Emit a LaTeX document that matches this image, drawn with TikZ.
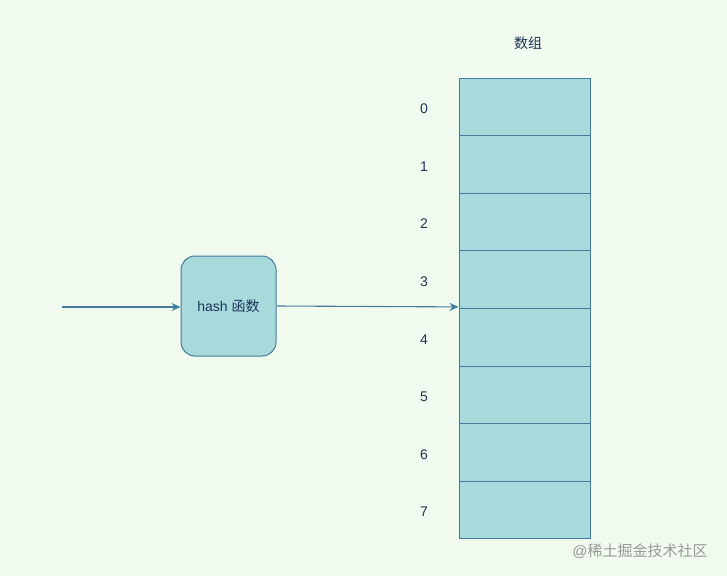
\documentclass[tikz,border=0pt]{standalone}
\usepackage{fontspec}
\setmainfont{Liberation Sans}
\newfontfamily\cjk{Noto Sans CJK SC}
\usetikzlibrary{arrows.meta,positioning}
\definecolor{bgcol}{HTML}{F1FAEE}
\definecolor{cellfill}{HTML}{A8DADC}
\definecolor{cellline}{HTML}{457B9D}
\definecolor{textcol}{HTML}{1D3557}

\begin{document}
\begin{tikzpicture}[
    x=1pt, y=-1pt,
    cell/.style={rectangle, draw=cellline, fill=cellfill, line width=1pt, minimum width=131pt, minimum height=57.6pt, inner sep=0pt},
    hashbox/.style={rectangle, rounded corners=14pt, draw=cellline, fill=cellfill, line width=1pt, minimum width=95pt, minimum height=100pt, font=\fontsize{14}{16}\selectfont, text=textcol},
    idx/.style={font=\fontsize{14}{16}\selectfont, text=textcol},
    link/.style={draw=cellline, line width=1.1pt, -{Stealth[length=9pt, width=8pt, inset=3pt]}}
]
  \fill[bgcol] (0,0) rectangle (727,576);
  \useasboundingbox (0,0) rectangle (727,576);
  \foreach \i in {0,...,7} {
    \node[cell] (cell\i) at (524.5, 106.8+57.6*\i) {};
    \node[idx, left=27pt of cell\i, yshift=-2pt] (lbl\i) {\i};
  }
  \node[idx] (title) at (528, 43) {\cjk 数组};
  \node[hashbox] (hash) at (228.5, 306) {hash {\cjk 函数}};
  \coordinate (in) at (62, 307);
  \draw[link] (in) -- (hash.west |- in);
  \draw[link] (hash.east) -- ([yshift=2pt]cell3.south west);
  \node[font=\fontsize{15}{17}\selectfont, text=black!40] (mark) at (640, 551) {@{\cjk 稀土掘金技术社区}};
\end{tikzpicture}
\end{document}
